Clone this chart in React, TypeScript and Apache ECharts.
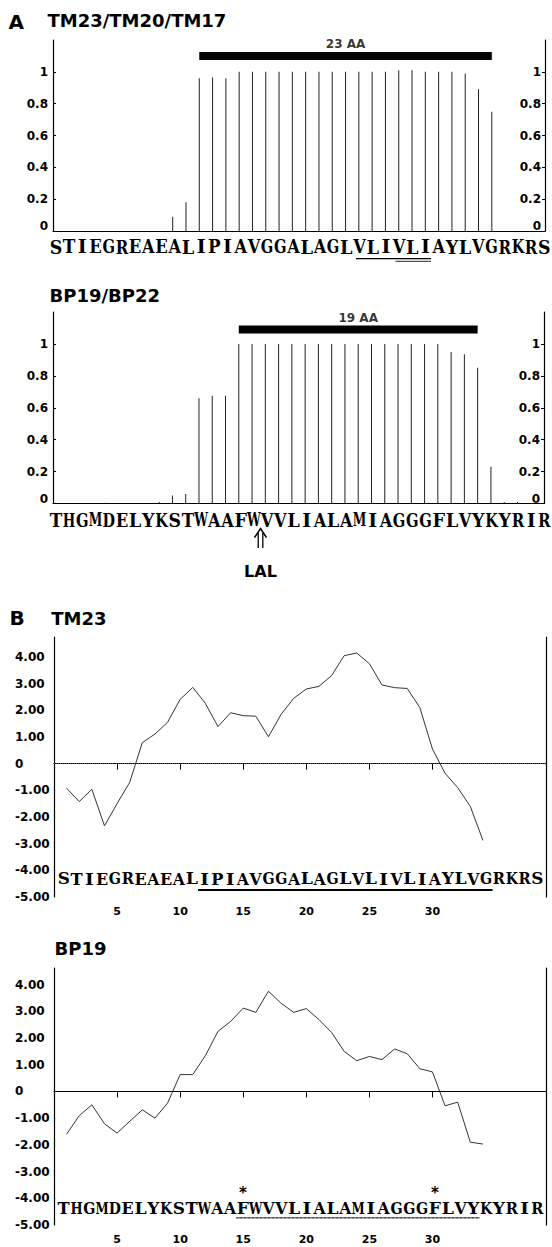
import React, { useEffect, useRef } from "react";
import * as echarts from "echarts";

// ---------- data ----------
const tmSeq = "STIEGREAEALIPIAVGGALAGLVLIVLIAYLVGRKRS";
const bpSeq = "THGMDELYKSTWAAFWVVLIALAMIAGGGFLVYKYRIR";

// panel A: per-residue TM probability (one value per residue)
const tmProb = [
  0, 0, 0, 0, 0, 0, 0, 0, 0, 0.09, 0.18, 0.96, 0.965, 0.96, 1, 1, 1, 1, 1, 1,
  1, 1, 1, 1, 1, 1, 1.01, 1.01, 1, 1, 1, 0.99, 0.89, 0.75, 0, 0, 0, 0,
];
const bpProb = [
  0, 0, 0, 0, 0.005, 0, 0, 0, 0.01, 0.05, 0.06, 0.66, 0.675, 0.675, 1, 1, 1, 1,
  1, 1, 1, 1, 1, 1, 1, 1, 1, 1, 1, 1, 0.95, 0.935, 0.85, 0.23, 0.01, 0.01, 0, 0,
];
// TM segments (residue index from..to) and labels
const tmSegment = [11, 33];
const tmSegmentLabel = "23 AA";
const bpSegment = [14, 32];
const bpSegmentLabel = "19 AA";
const segmentLevelTm = 1.1;
const segmentLevelBp = 1.09;

// panel B: hydropathy profiles, x = 1..34
const tmHydro = [
  -0.92, -1.42, -0.96, -2.33, -1.5, -0.7, 0.79, 1.11, 1.55, 2.41, 2.86, 2.26,
  1.39, 1.91, 1.8, 1.78, 1.01, 1.85, 2.45, 2.8, 2.9, 3.3, 4.05, 4.15, 3.75,
  2.95, 2.85, 2.82, 2.1, 0.55, -0.36, -0.9, -1.6, -2.88,
];
const bpHydro = [
  -1.6, -0.91, -0.5, -1.21, -1.56, -1.12, -0.69, -1.0, -0.44, 0.63, 0.63,
  1.34, 2.25, 2.62, 3.12, 2.96, 3.75, 3.3, 2.96, 3.1, 2.69, 2.21, 1.5, 1.15,
  1.31, 1.19, 1.59, 1.41, 0.85, 0.73, -0.54, -0.4, -1.9, -1.97,
];

const probTicks = [0, 0.2, 0.4, 0.6, 0.8, 1];
const hydroTicks = [-5, -4, -3, -2, -1, 0, 1, 2, 3, 4];
const posTicks = [5, 10, 15, 20, 25, 30];

// annotations (residue indices)
const tmUnderlineA = [
  [23, 28],
  [26, 28],
];
const tmUnderlineB = [11, 33];
const bpUnderlineB = [14, 32];
const bpStars = [14, 29];
const lalBoundary = 16; // arrow between W15 and V16
const lalLabel = "LAL";

// ---------- layout ----------
const SANS = "'DejaVu Sans', Verdana, sans-serif";
const SERIF = "'DejaVu Serif', 'Liberation Serif', serif";
const CW_A = 13.2;
const CW_B = 12.8;
const seqAx = 49.3;
const seqBx = 57.3;

const fmtProb = (v: number) => {
  const r = Math.round(v * 10) / 10;
  return r === 0 ? "{z|0}" : String(r);
};
const fmtHydro = (v: number) => {
  const r = Math.round(v);
  if (r === 0) return "0";
  return (r < 0 ? "-" : "") + Math.abs(r).toFixed(2);
};

const labelFont = { fontFamily: SANS, fontWeight: "bold", fontSize: 12, color: "#000" };

function probY(gridIndex: number, right: boolean) {
  return {
    gridIndex,
    type: "value",
    position: right ? "right" : "left",
    min: 0,
    max: 1.2,
    interval: 0.2,
    axisLine: { show: true, lineStyle: { color: "#000", width: 1.2 } },
    axisTick: {
      show: true,
      inside: true,
      length: 3,
      customValues: probTicks,
      lineStyle: { color: "#000" },
    },
    axisLabel: {
      show: true,
      inside: right,
      customValues: probTicks,
      formatter: fmtProb,
      margin: right ? 4 : 5,
      ...labelFont,
      rich: { z: { ...labelFont, padding: [0, 0, 10, 0] } },
    },
    splitLine: { show: false },
  };
}

function hydroY(gridIndex: number, max: number, right: boolean) {
  return {
    gridIndex,
    type: "value",
    position: right ? "right" : "left",
    min: -5,
    max,
    interval: 1,
    axisLine: { show: true, lineStyle: { color: "#000", width: 1.2 } },
    axisTick: { show: false },
    axisLabel: {
      show: !right,
      customValues: hydroTicks,
      formatter: fmtHydro,
      align: "left",
      margin: 39,
      ...labelFont,
    },
    splitLine: { show: false },
  };
}

function seqX(seq: string, gridIndex: number) {
  return {
    gridIndex,
    type: "category",
    data: seq.split(""),
    boundaryGap: false,
    axisLine: { show: true, lineStyle: { color: "#000", width: 1.2 } },
    axisTick: { show: false },
    axisLabel: { show: false },
    splitLine: { show: false },
  };
}

function posX(gridIndex: number) {
  return {
    gridIndex,
    type: "value",
    min: 0,
    max: 39,
    interval: 5,
    axisLine: { show: true, lineStyle: { color: "#000", width: 1.2 } },
    axisTick: {
      show: true,
      length: 6,
      customValues: posTicks,
      lineStyle: { color: "#000" },
    },
    axisLabel: {
      show: true,
      customValues: posTicks,
      margin: 9,
      ...labelFont,
      fontSize: 11,
    },
    splitLine: { show: false },
  };
}

function probSeries(idx: number, data: number[], seg: number[], level: number, label: string) {
  return [
    {
      type: "bar",
      xAxisIndex: idx,
      yAxisIndex: idx * 2,
      data,
      barWidth: 1,
      itemStyle: { color: "#222" },
      silent: true,
    },
    {
      type: "line",
      xAxisIndex: idx,
      yAxisIndex: idx * 2,
      data: [
        [seg[0], level],
        [seg[1], level],
      ],
      symbol: "none",
      lineStyle: { color: "#000", width: 8, cap: "butt" },
      silent: true,
    },
    {
      type: "scatter",
      xAxisIndex: idx,
      yAxisIndex: idx * 2,
      data: [[(seg[0] + seg[1]) / 2, level]],
      symbolSize: 1,
      itemStyle: { color: "rgba(0,0,0,0)" },
      label: {
        show: true,
        position: "top",
        distance: 5,
        formatter: label,
        ...labelFont,
        fontSize: 12,
      },
      silent: true,
    },
  ];
}

function hydroSeries(idx: number, data: number[], dotted: boolean) {
  return {
    type: "line",
    xAxisIndex: idx,
    yAxisIndex: idx * 2,
    data: data.map((v, i) => [i + 1, v]),
    symbol: "none",
    lineStyle: { color: "#333", width: 1 },
    silent: true,
    markLine: {
      silent: true,
      symbol: ["none", "none"],
      label: { show: false },
      data: [{ yAxis: 0 }],
      lineStyle: dotted
        ? { type: "dotted", color: "#444", width: 1 }
        : { type: "solid", color: "#000", width: 1.2 },
    },
  };
}

function txt(text: string, x: number, y: number, font: string, align = "left", scaleX = 1) {
  return {
    type: "text",
    x,
    y,
    scaleX,
    silent: true,
    style: {
      text,
      font,
      fill: "#000",
      align,
      verticalAlign: "middle",
      textAlign: align,
      textVerticalAlign: "middle",
    },
  };
}

let measureCtx: CanvasRenderingContext2D | null = null;
function glyphWidth(ch: string, font: string) {
  if (!measureCtx) measureCtx = document.createElement("canvas").getContext("2d");
  if (!measureCtx) return 10;
  measureCtx.font = font;
  return measureCtx.measureText(ch).width || 10;
}

// one glyph per residue, on a fixed-pitch grid, like a typewriter font
function seqText(seq: string, x0: number, cw: number, y: number, size: number) {
  const font = `bold ${size}px ${SERIF}`;
  return seq.split("").map((ch, i) => {
    const w = glyphWidth(ch, font);
    const sx = Math.max(0.68, Math.min(1.06, (cw * 0.95) / w));
    return txt(ch, x0 + cw * (i + 0.5), y, font, "center", sx);
  });
}

function hline(x1: number, x2: number, y: number, color: string, width: number, dash?: number[]) {
  return {
    type: "line",
    silent: true,
    shape: { x1, y1: y, x2, y2: y },
    style: { stroke: color, lineWidth: width, lineDash: dash },
  };
}

export default function App() {
  const ref = useRef<HTMLDivElement>(null);
  useEffect(() => {
    if (!ref.current) return;
    const chart = echarts.init(ref.current, undefined, { renderer: "svg" });
    const titleFont = `bold 18px ${SANS}`;
    const letterFont = `bold 20px ${SANS}`;
    const lalX = seqAx + CW_A * lalBoundary;

    const graphic: any[] = [
      txt("A", 8.5, 21.7, letterFont),
      txt("TM23/TM20/TM17", 47.5, 20.5, titleFont),
      ...seqText(tmSeq, seqAx, CW_A, 247, 18),
      ...tmUnderlineA.map((u, k) =>
        hline(seqAx + CW_A * u[0] + 3, seqAx + CW_A * (u[1] + 1) - 1, 258.6 + k * 2.8, k === 0 ? "#000" : "#555", 1.3)
      ),
      txt("BP19/BP22", 49.5, 295, titleFont),
      ...seqText(bpSeq, seqAx, CW_A, 520.5, 18),
      {
        type: "polyline",
        silent: true,
        shape: { points: [[lalX - 6, 537.5], [lalX, 528.5], [lalX + 6, 537.5]] },
        style: { stroke: "#000", lineWidth: 1.5, fill: "none" },
      },
      {
        type: "line",
        silent: true,
        shape: { x1: lalX - 2.3, y1: 533, x2: lalX - 2.3, y2: 548 },
        style: { stroke: "#000", lineWidth: 1.3 },
      },
      {
        type: "line",
        silent: true,
        shape: { x1: lalX + 2.3, y1: 533, x2: lalX + 2.3, y2: 548 },
        style: { stroke: "#000", lineWidth: 1.3 },
      },
      txt(lalLabel, lalX, 571, `bold 16px ${SANS}`, "center"),
      txt("B", 9.5, 618.3, letterFont),
      txt("TM23", 51.2, 618.3, titleFont),
      ...seqText(tmSeq, seqBx, CW_B, 878.3, 17.5),
      hline(seqBx + CW_B * tmUnderlineB[0], seqBx + CW_B * (tmUnderlineB[1] + 1), 890, "#000", 2),
      txt("BP19", 54.5, 948.3, titleFont),
      ...seqText(bpSeq, seqBx, CW_B, 1208, 17.5),
      hline(seqBx + CW_B * bpUnderlineB[0], seqBx + CW_B * (bpUnderlineB[1] + 1), 1217.8, "#777", 1.5),
      hline(seqBx + CW_B * bpUnderlineB[0], seqBx + CW_B * (bpUnderlineB[1] + 1), 1217.8, "#222", 1.5, [1, 3]),
      ...bpStars.map((i) => txt("*", seqBx + CW_B * (i + 0.5), 1193, `bold 15px ${SANS}`, "center")),
    ];

    chart.setOption({
      animation: false,
      backgroundColor: "#fff",
      grid: [
        { left: 53, top: 40, width: 492, height: 191 },
        { left: 53, top: 312, width: 491, height: 191.5 },
        { left: 54, top: 637, width: 492, height: 260 },
        { left: 54, top: 968, width: 492, height: 257 },
      ],
      xAxis: [seqX(tmSeq, 0), seqX(bpSeq, 1), posX(2), posX(3)],
      yAxis: [
        probY(0, false),
        probY(0, true),
        probY(1, false),
        probY(1, true),
        hydroY(2, 4.75, false),
        hydroY(2, 4.75, true),
        hydroY(3, 4.62, false),
        hydroY(3, 4.62, true),
      ],
      series: [
        ...probSeries(0, tmProb, tmSegment, segmentLevelTm, tmSegmentLabel),
        ...probSeries(1, bpProb, bpSegment, segmentLevelBp, bpSegmentLabel),
        hydroSeries(2, tmHydro, true),
        hydroSeries(3, bpHydro, false),
      ],
      graphic,
    });
    return () => chart.dispose();
  }, []);
  return (
    <div
      ref={ref}
      style={{ position: "absolute", left: 0, top: 0, width: 552, height: 1247, background: "#fff" }}
    />
  );
}
